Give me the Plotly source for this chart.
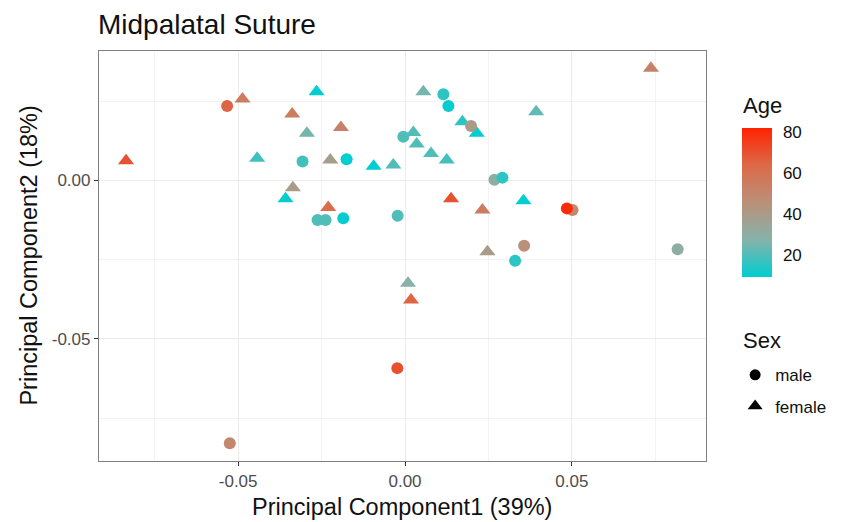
import plotly.graph_objects as go

# ---- data ----
male_pc1 = [-0.0533, -0.0005, -0.0307, -0.0175, -0.0262, -0.0238, -0.0185, -0.0022,
            0.0115, 0.0130, 0.0198, 0.0268, 0.0292, 0.0502, 0.0485, 0.0357,
            0.0330, 0.0817, -0.0023, -0.0525]
male_pc2 = [0.0235, 0.0138, 0.0060, 0.0067, -0.0125, -0.0125, -0.0119, -0.0111,
            0.0272, 0.0235, 0.0172, 0.0002, 0.0009, -0.0093, -0.0088, -0.0206,
            -0.0253, -0.0217, -0.0592, -0.0829]
male_age = [65, 20, 18, 8, 20, 20, 10, 20,
            15, 10, 40, 30, 15, 50, 80, 45,
            15, 30, 70, 50]

female_pc1 = [-0.0836, -0.0487, -0.0265, -0.0338, -0.0294, -0.0192, -0.0443, -0.0224,
              -0.0094, -0.0035, -0.0336, -0.0358, -0.0230, 0.0737, 0.0055, 0.0393,
              0.0172, 0.0215, 0.0025, 0.0035, 0.0078, 0.0125, 0.0138, 0.0232,
              0.0355, 0.0247, 0.0009, 0.0018]
female_pc2 = [0.0062, 0.0257, 0.0280, 0.0210, 0.0149, 0.0167, 0.0070, 0.0065,
              0.0045, 0.0049, -0.0023, -0.0058, -0.0085, 0.0354, 0.0280, 0.0217,
              0.0185, 0.0149, 0.0151, 0.0115, 0.0085, 0.0065, -0.0058, -0.0093,
              -0.0064, -0.0225, -0.0324, -0.0377]
female_age = [70, 55, 8, 55, 25, 52, 18, 38,
              8, 20, 40, 10, 62, 52, 25, 22,
              15, 8, 20, 20, 20, 18, 70, 55,
              8, 40, 28, 65]

x_ticks = [-0.05, 0.00, 0.05]
x_tick_labels = ["-0.05", "0.00", "0.05"]
y_ticks = [-0.05, 0.00]
y_tick_labels = ["-0.05", "0.00"]
age_ticks = [20, 40, 60, 80]

colorscale = [[0.0, "#00CED1"], [0.25, "#86B2AA"], [0.5, "#BA9079"],
              [0.75, "#DC6A48"], [1.0, "#FF2200"]]
cmin, cmax = 9, 82

FONT = "Liberation Sans, Arial, sans-serif"
TXT = "#111111"

fig = go.Figure()

fig.add_trace(go.Scatter(
    x=female_pc1, y=female_pc2, mode="markers", showlegend=False,
    marker=dict(symbol="triangle-up", size=14, color=female_age,
                colorscale=colorscale, cmin=cmin, cmax=cmax, line=dict(width=0),
                showscale=False),
))
fig.add_trace(go.Scatter(
    x=male_pc1, y=male_pc2, mode="markers", showlegend=False,
    marker=dict(symbol="circle", size=12, color=male_age,
                colorscale=colorscale, cmin=cmin, cmax=cmax, line=dict(width=0),
                showscale=True,
                colorbar=dict(
                    x=1.059, xanchor="left", xpad=0, ypad=0,
                    y=0.63, yanchor="middle",
                    thickness=30, len=149, lenmode="pixels",
                    tickvals=age_ticks, ticks="outside", ticklen=8, tickcolor="white",
                    outlinewidth=0, tickfont=dict(size=17, color=TXT),
                )),
))

# legend entries (black symbols)
fig.add_trace(go.Scatter(x=[None], y=[None], mode="markers", name="male",
                         legendgroup="m",
                         marker=dict(symbol="circle", size=11, color="black")))
fig.add_trace(go.Scatter(x=[None], y=[None], mode="markers", name="female",
                         legendgroup="f",
                         marker=dict(symbol="triangle-up", size=13, color="black")))

# legend / axis titles
fig.add_annotation(text="Age", xref="paper", yref="paper", x=1.058, y=0.866,
                   xanchor="left", yanchor="middle", showarrow=False,
                   font=dict(size=22, color=TXT))
fig.add_annotation(text="Sex", xref="paper", yref="paper", x=1.058, y=0.295,
                   xanchor="left", yanchor="middle", showarrow=False,
                   font=dict(size=22, color=TXT))
fig.add_annotation(text="Principal Component1 (39%)", xref="paper", yref="paper",
                   x=0.499, y=-0.112, xanchor="center", yanchor="middle",
                   showarrow=False, font=dict(size=23.5, color=TXT))
fig.add_annotation(text="Principal Component2 (18%)", xref="paper", yref="paper",
                   x=-0.116, y=0.5, xanchor="center", yanchor="middle", textangle=-90,
                   showarrow=False, font=dict(size=23.5, color=TXT))

grid = "#EBEBEB"
axis_common = dict(
    showgrid=True, gridcolor=grid, gridwidth=1.3, zeroline=False,
    ticks="outside", ticklen=4, tickcolor="#333",
    tickfont=dict(size=17, color="#4D4D4D"),
    showline=True, linecolor="#7F7F7F", linewidth=1.2, mirror=True,
)
fig.update_layout(
    width=854, height=522,
    margin=dict(l=91, r=156, t=43, b=69),
    paper_bgcolor="white", plot_bgcolor="white",
    font=dict(family=FONT, color=TXT),
    title=dict(text="Midpalatal Suture", x=90/854, xanchor="left",
               y=1 - 16/522, yanchor="middle", font=dict(size=28, color=TXT)),
    legend=dict(x=1.048, xanchor="left", y=0.253, yanchor="top",
                font=dict(size=17, color=TXT), tracegroupgap=6,
                itemsizing="trace"),
    xaxis=dict(range=[-0.0917, 0.0902], tickvals=x_ticks, ticktext=x_tick_labels,
               minor=dict(dtick=0.025, tick0=0, showgrid=True, gridcolor="#F3F3F3", gridwidth=0.8),
               **axis_common),
    yaxis=dict(range=[-0.0885, 0.04085], tickvals=y_ticks, ticktext=y_tick_labels,
               minor=dict(dtick=0.025, tick0=0, showgrid=True, gridcolor="#F3F3F3", gridwidth=0.8),
               **axis_common),
)

fig.write_html("out.html")
